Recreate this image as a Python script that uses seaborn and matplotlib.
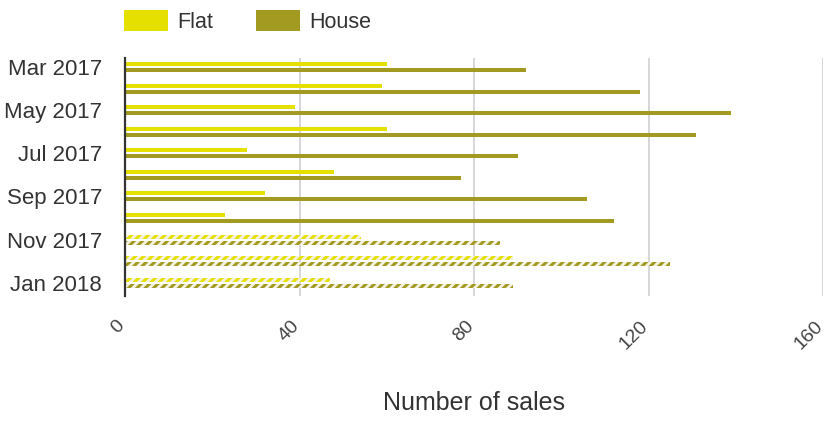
import matplotlib
matplotlib.use("Agg")
import matplotlib.pyplot as plt
import matplotlib.transforms as mtransforms
from matplotlib.patches import Patch
import seaborn as sns
import pandas as pd

# Monthly sales counts by property type
months = ["Mar 2017", "Apr 2017", "May 2017", "Jun 2017", "Jul 2017", "Aug 2017",
          "Sep 2017", "Oct 2017", "Nov 2017", "Dec 2017", "Jan 2018"]
flat_sales = [60, 59, 39, 60, 28, 48, 32, 23, 54, 89, 47]
house_sales = [92, 118, 139, 131, 90, 77, 106, 112, 86, 125, 89]
provisional = [False] * 8 + [True] * 3
series_names = ["Flat", "House"]
series_colors = ["#e5e000", "#a39a22"]
x_ticks = [0, 40, 80, 120, 160]

df = pd.DataFrame({
    "month": months * 2,
    "type": ["Flat"] * len(months) + ["House"] * len(months),
    "sales": flat_sales + house_sales,
})

sns.set_style("white")
plt.rcParams["font.family"] = ["Liberation Sans", "DejaVu Sans"]
plt.rcParams["hatch.linewidth"] = 2.2
text_color = "#333333"

fig = plt.figure(figsize=(8.24, 4.41), dpi=100)
ax = fig.add_axes([125 / 824, 1 - 296 / 441, 698 / 824, 238 / 441])

sns.barplot(data=df, y="month", x="sales", hue="type", orient="h",
            order=months, hue_order=series_names,
            palette=series_colors, saturation=1, width=0.556, gap=0.333,
            linewidth=0, legend=False, ax=ax)

# Provisional months are drawn with a hatched fill
for container, color in zip(ax.containers, series_colors):
    for bar, prov in zip(container, provisional):
        if prov:
            bar.set_facecolor("#f4f2e2")
            bar.set_edgecolor(color)
            bar.set_linewidth(0)
            bar.set_hatch("////")

ax.set_xlim(0, 160)
ax.set_ylim(10.62, -0.42)
ax.set_xticks(x_ticks)
ax.set_xticklabels([str(t) for t in x_ticks])
ax.set_yticks(range(len(months)))
ax.set_yticklabels([m if i % 2 == 0 else "" for i, m in enumerate(months)])

ax.grid(axis="x", color="#cccccc", linewidth=1.1)
ax.grid(axis="y", visible=False)
ax.set_axisbelow(True)
for side in ["top", "right", "bottom"]:
    ax.spines[side].set_visible(False)
ax.spines["left"].set_color("#333333")
ax.spines["left"].set_linewidth(1.6)
ax.spines["left"].set_zorder(5)

ax.tick_params(axis="y", length=0, pad=16.5, labelsize=16, labelcolor=text_color)
ax.tick_params(axis="x", length=0, pad=15.5, labelsize=14, labelcolor="#444444")
shift = mtransforms.ScaledTranslation(3 / 100, 0, fig.dpi_scale_trans)
for lbl in ax.get_xticklabels():
    lbl.set_rotation(45)
    lbl.set_ha("right")
    lbl.set_va("top")
    lbl.set_transform(lbl.get_transform() + shift)

ax.set_ylabel("")
ax.set_xlabel("Number of sales", fontsize=18, color=text_color, va="center")
ax.xaxis.set_label_coords(0.5, -107 / 238)

handles = [Patch(facecolor=c, edgecolor="none", label=n)
           for n, c in zip(series_names, series_colors)]
fig.legend(handles=handles, loc="upper left",
           bbox_to_anchor=(124 / 824, 1 - 10 / 441), ncol=2, frameon=False,
           fontsize=15.5, handlelength=2.05, handleheight=1.15,
           handletextpad=0.42, columnspacing=2.0, borderpad=0,
           borderaxespad=0, labelcolor=text_color)

fig.savefig("out.png", dpi=100)
